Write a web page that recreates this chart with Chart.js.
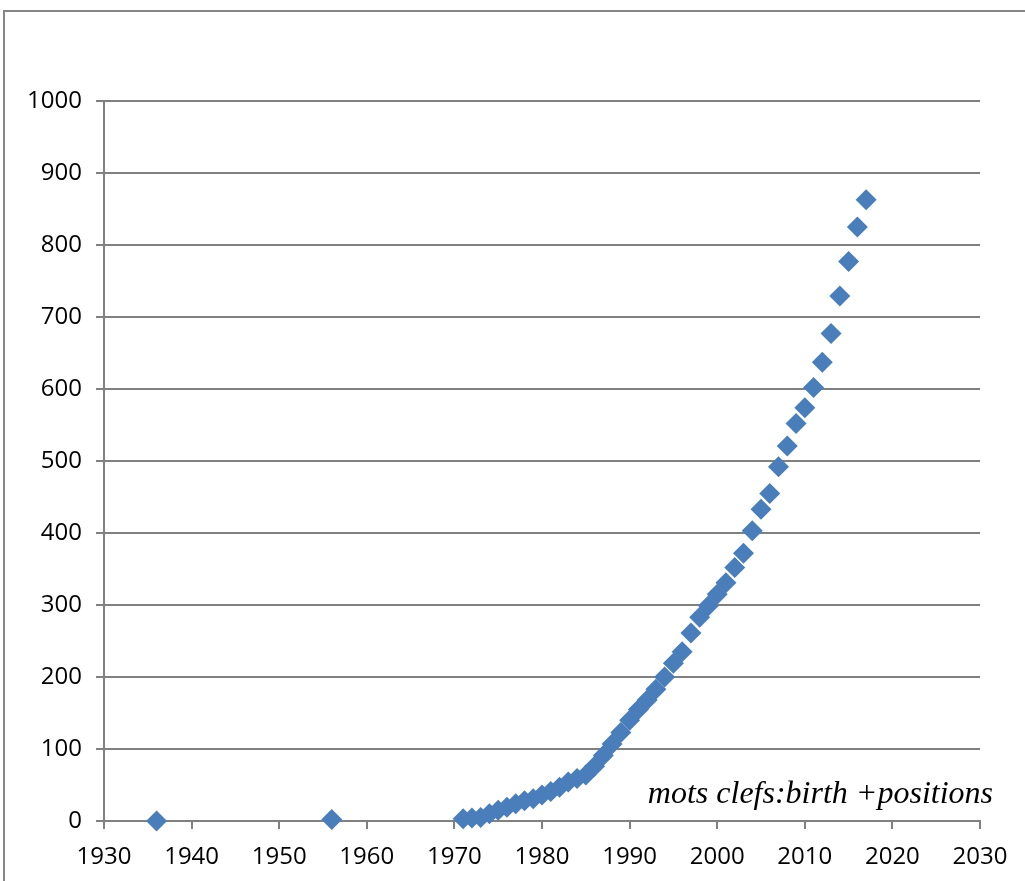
<!DOCTYPE html>
<html>
<head>
<meta charset="utf-8">
<script src="https://cdn.jsdelivr.net/npm/chart.js@4/dist/chart.umd.min.js"></script>
<style>
  html, body { margin: 0; padding: 0; background: #fff; }
  #wrap { width: 1025px; height: 881px; position: relative; }
</style>
</head>
<body>
<div id="wrap"><canvas id="chart" width="1025" height="881"></canvas></div>
<script>
// years with entries, and cumulative count
const years = [1936, 1956,
  1971, 1972, 1973, 1974, 1975, 1976, 1977, 1978, 1979, 1980,
  1981, 1982, 1983, 1984, 1985, 1986, 1987, 1988, 1989, 1990,
  1991, 1992, 1993, 1994, 1995, 1996, 1997, 1998, 1999, 2000,
  2001, 2002, 2003, 2004, 2005, 2006, 2007, 2008, 2009, 2010,
  2011, 2012, 2013, 2014, 2015, 2016, 2017];
const counts = [0, 2,
  3, 4, 5, 10, 15, 19, 24, 28, 31, 36,
  41, 47, 54, 59, 64, 76, 91, 107, 123, 140,
  155, 168, 183, 200, 219, 235, 261, 283, 299, 315,
  331, 352, 372, 403, 433, 455, 492, 521, 552, 574,
  602, 637, 677, 729, 777, 825, 863];
const xTicks = [1930, 1940, 1950, 1960, 1970, 1980, 1990, 2000, 2010, 2020, 2030];
const yTicks = [0, 100, 200, 300, 400, 500, 600, 700, 800, 900, 1000];
const note = 'mots clefs:birth +positions';

const points = years.map((y, i) => ({ x: y, y: counts[i] }));

// outer frame + the italic note
const extras = {
  id: 'extras',
  beforeDraw(chart) {
    const ctx = chart.ctx;
    ctx.save();
    ctx.fillStyle = '#fff';
    ctx.fillRect(0, 0, chart.width, chart.height);
    ctx.strokeStyle = '#868686';
    ctx.lineWidth = 2;
    ctx.beginPath();
    ctx.moveTo(4, 881);
    ctx.lineTo(4, 11);
    ctx.lineTo(1025, 11);
    ctx.stroke();
    ctx.restore();
  },
  afterDraw(chart) {
    const ctx = chart.ctx;
    ctx.save();
    ctx.font = 'italic 32px "Liberation Serif", "Times New Roman", serif';
    ctx.fillStyle = '#000';
    ctx.textAlign = 'right';
    ctx.textBaseline = 'alphabetic';
    ctx.fillText(note, 993, 803);
    ctx.restore();
  }
};

new Chart(document.getElementById('chart'), {
  type: 'scatter',
  data: {
    datasets: [{
      data: points,
      pointStyle: 'rectRot',
      pointRadius: 10.5,
      pointHoverRadius: 10.5,
      backgroundColor: '#4a7ebb',
      borderColor: '#4a7ebb',
      borderWidth: 0,
      clip: false
    }]
  },
  options: {
    responsive: false,
    animation: false,
    events: [],
    layout: { padding: { left: 0, top: 101, right: 45, bottom: 0 } },
    plugins: { legend: { display: false }, tooltip: { enabled: false } },
    scales: {
      x: {
        type: 'linear',
        min: 1930, max: 2030,
        afterFit: s => { s.height = 60; },
        afterBuildTicks: s => { s.ticks = xTicks.map(v => ({ value: v })); },
        grid: { drawOnChartArea: false, drawTicks: true, tickLength: 8, color: '#808080', lineWidth: 2 },
        border: { color: '#808080', width: 2 },
        ticks: { color: '#000', padding: 14, maxRotation: 0, font: { family: '"Open Sans", sans-serif', size: 24 }, callback: v => String(v) }
      },
      y: {
        min: 0, max: 1000,
        afterFit: s => { s.width = 104; },
        afterBuildTicks: s => { s.ticks = yTicks.map(v => ({ value: v })); },
        grid: { drawOnChartArea: true, drawTicks: true, tickLength: 8, color: '#808080', lineWidth: 2 },
        border: { color: '#808080', width: 2 },
        ticks: { color: '#000', padding: 14, font: { family: '"Open Sans", sans-serif', size: 24 }, callback: v => String(v) }
      }
    }
  },
  plugins: [extras]
});
</script>
</body>
</html>
